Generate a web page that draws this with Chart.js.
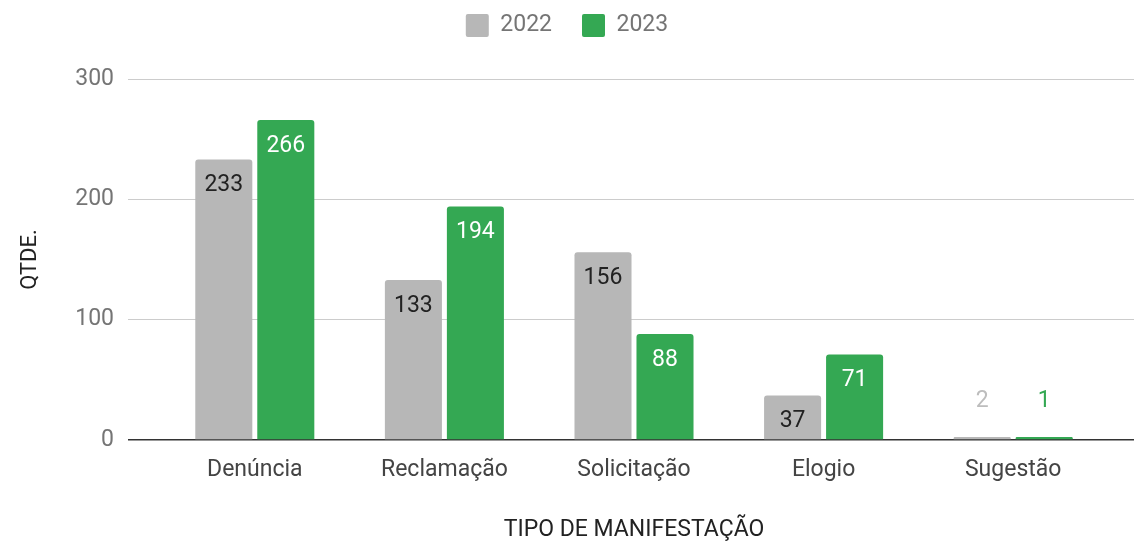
<!DOCTYPE html>
<html>
<head>
<meta charset="utf-8">
<script src="https://cdn.jsdelivr.net/npm/chart.js@4"></script>
<style>
  html, body { margin: 0; padding: 0; background: #fff; }
  #wrap { width: 1134px; height: 545px; }
</style>
</head>
<body>
<div id="wrap"><canvas id="chart"></canvas></div>
<script>
// ==== Data ====
var categorias = ['Denúncia', 'Reclamação', 'Solicitação', 'Elogio', 'Sugestão']
var valores2022 = [233, 133, 156, 37, 2]
var valores2023 = [266, 194, 88, 71, 1]
var ticksY = [0, 100, 200, 300]

var cinza = '#b7b7b7'
var verde = '#34a853'
var fonte = 'Roboto'

// === labels on top of / inside the bars ===
var barLabels = {
    id: 'barLabels',
    afterDatasetsDraw: function(chart) {
        var ctx = chart.ctx
        ctx.save()
        ctx.font = '23px ' + fonte
        ctx.textAlign = 'center'
        ctx.textBaseline = 'middle'
        chart.data.datasets.forEach(function(ds, i) {
            var meta = chart.getDatasetMeta(i)
            meta.data.forEach(function(bar, j) {
                var h = bar.base - bar.y
                if (h > 40) {
                    ctx.fillStyle = ds.insideColor
                    ctx.fillText(ds.data[j], bar.x, bar.y + 26)
                } else {
                    ctx.fillStyle = ds.outsideColor
                    ctx.fillText(ds.data[j], bar.x, bar.y - 36)
                }
            })
        })
        ctx.restore()
    }
}

// === empty box between legend and plot ===
var spacer = {
    id: 'spacer',
    beforeInit: function(chart) {
        Chart.layouts.addBox(chart, {
            position: 'top',
            weight: 0,
            fullSize: true,
            options: {},
            isHorizontal: function() { return true },
            update: function(maxWidth) { this.width = maxWidth; this.height = 32 },
            draw: function() {}
        })
    }
}

var config = {
    type: 'bar',
    data: {
        labels: categorias,
        datasets: [{
            label: '2022',
            data: valores2022,
            backgroundColor: cinza,
            borderRadius: 3,
            borderSkipped: 'bottom',
            minBarLength: 3,
            barPercentage: 0.92,
            categoryPercentage: 0.654,
            insideColor: '#222222',
            outsideColor: '#bdbdbd',
        }, {
            label: '2023',
            data: valores2023,
            backgroundColor: verde,
            borderRadius: 3,
            borderSkipped: 'bottom',
            minBarLength: 3,
            barPercentage: 0.92,
            categoryPercentage: 0.654,
            insideColor: '#ffffff',
            outsideColor: verde,
        }],
    },
    options: {
        responsive: true,
        maintainAspectRatio: false,
        animation: false,
        layout: {
            padding: { top: -16, bottom: 0, left: 0, right: 0 }
        },
        plugins: {
            legend: {
                position: 'top',
                labels: {
                    font: { family: fonte, size: 23 },
                    color: '#757575',
                    boxWidth: 23,
                    boxHeight: 23,
                    useBorderRadius: true,
                    borderRadius: 2,
                    padding: 30,
                }
            },
            tooltip: { enabled: false }
        },
        scales: {
            x: {
                afterFit: function(scale) { scale.height = 105 },
                grid: { display: false },
                border: { display: false },
                ticks: {
                    font: { family: fonte, size: 23 },
                    color: '#444444',
                    padding: 8,
                },
                title: {
                    display: true,
                    text: 'TIPO DE MANIFESTAÇÃO',
                    font: { family: fonte, size: 23 },
                    color: '#222222',
                    padding: { top: 0, bottom: 1 }
                }
            },
            y: {
                min: 0,
                max: 300,
                afterBuildTicks: function(scale) {
                    scale.ticks = ticksY.map(function(v) { return { value: v } })
                },
                afterFit: function(scale) { scale.width = 160 },
                grid: {
                    color: function(c) { return c.tick && c.tick.value === 0 ? '#333333' : '#cccccc' },
                    lineWidth: function(c) { return c.tick && c.tick.value === 0 ? 1.5 : 1 },
                    tickLength: 32,
                },
                border: { display: false },
                ticks: {
                    font: { family: fonte, size: 23 },
                    color: '#757575',
                    padding: 14,
                },
                title: {
                    display: true,
                    text: 'QTDE.',
                    font: { family: fonte, size: 22 },
                    color: '#222222',
                    padding: { top: 17, bottom: 0 }
                }
            },
            y2: {
                position: 'right',
                min: 0,
                max: 300,
                afterBuildTicks: function(scale) {
                    scale.ticks = ticksY.map(function(v) { return { value: v } })
                },
                afterFit: function(scale) { scale.width = 26 },
                grid: {
                    drawOnChartArea: false,
                    color: function(c) { return c.tick && c.tick.value === 0 ? '#333333' : '#cccccc' },
                    lineWidth: function(c) { return c.tick && c.tick.value === 0 ? 1.5 : 1 },
                    tickLength: 26,
                },
                border: { display: false },
                ticks: { display: false }
            }
        }
    },
    plugins: [barLabels, spacer]
}

new Chart(document.getElementById('chart').getContext('2d'), config)
</script>
</body>
</html>
